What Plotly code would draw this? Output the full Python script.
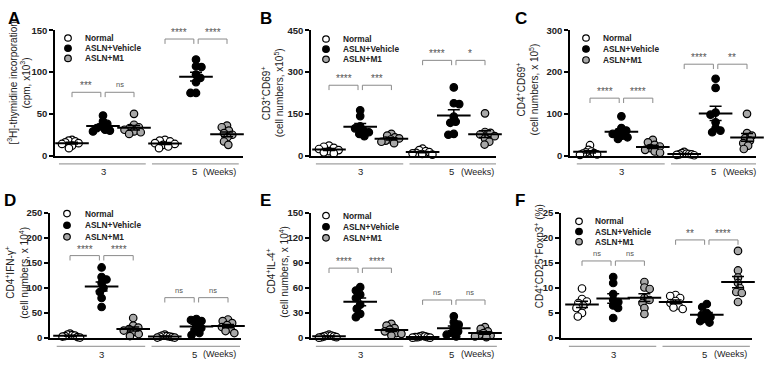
import numpy as np
import plotly.graph_objects as go

W, H = 767, 367
group_names = ["Normal", "ASLN+Vehicle", "ASLN+M1"]
fills = ["white", "black", "#a8a8a8"]
week_labels = ["3", "5"]

# ---- Panel A : [3H]-thymidine incorporation ----
a_normal_3 = [19, 18, 17, 16, 15, 14, 12, 9]
a_vehicle_3 = [48, 41, 38, 35, 33, 31, 30, 29]
a_m1_3 = [50, 37, 34, 33, 31, 29, 28, 26]
a_normal_5 = [19, 18, 17, 15, 14, 13, 11, 9]
a_vehicle_5 = [115, 107, 106, 97, 93, 88, 75, 75]
a_m1_5 = [36, 34, 30, 27, 25, 22, 17, 13]
a_ticks = [0, 50, 100, 150]
a_sig = ["***", "ns", "****", "****"]

# ---- Panel B : CD3+CD69+ ----
b_normal_3 = [36, 32, 28, 24, 20, 16, 12, 8]
b_vehicle_3 = [163, 142, 105, 98, 90, 84, 78, 70]
b_m1_3 = [78, 72, 66, 62, 58, 54, 50, 45]
b_normal_5 = [25, 20, 16, 13, 10, 8, 6, 4]
b_vehicle_5 = [245, 188, 185, 140, 122, 118, 78, 75]
b_m1_5 = [152, 85, 82, 76, 70, 62, 50, 40]
b_ticks = [0, 150, 300, 450]
b_sig = ["****", "***", "****", "*"]

# ---- Panel C : CD4+CD69+ ----
c_normal_3 = [25, 14, 10, 8, 6, 5, 3, 2]
c_vehicle_3 = [94, 66, 60, 56, 52, 48, 44, 40]
c_m1_3 = [38, 32, 26, 22, 18, 14, 10, 7]
c_normal_5 = [9, 6, 5, 4, 3, 3, 2, 1]
c_vehicle_5 = [184, 162, 103, 98, 80, 66, 60, 56]
c_m1_5 = [100, 54, 48, 42, 36, 30, 24, 16]
c_ticks = [0, 100, 200, 300]
c_sig = ["****", "****", "****", "**"]

# ---- Panel D : CD4+IFN-g+ ----
d_normal_3 = [9, 7, 6, 5, 4, 3, 2, 1]
d_vehicle_3 = [141, 122, 117, 110, 100, 92, 80, 62]
d_m1_3 = [40, 25, 21, 18, 15, 12, 8, 4]
d_normal_5 = [7, 5, 4, 3, 3, 2, 1, 1]
d_vehicle_5 = [38, 36, 34, 25, 20, 15, 10, 6]
d_m1_5 = [37, 34, 30, 26, 22, 18, 14, 10]
d_ticks = [0, 50, 100, 150, 200, 250]
d_sig = ["****", "****", "ns", "ns"]

# ---- Panel E : CD4+IL-4+ ----
e_normal_3 = [4, 3, 3, 2, 2, 1, 1, 0.5]
e_vehicle_3 = [61, 57, 52, 48, 40, 35, 29, 25]
e_m1_3 = [17, 15, 12, 10, 8, 6, 5, 3]
e_normal_5 = [3, 2, 2, 1, 1, 1, 0.5, 0.5]
e_vehicle_5 = [26, 19, 16, 12, 8, 6, 4, 2]
e_m1_5 = [13, 11, 8, 6, 4, 3, 2, 1]
e_ticks = [0, 30, 60, 90, 120, 150]
e_sig = ["****", "****", "ns", "ns"]

# ---- Panel F : CD4+CD25+Foxp3+ (%) ----
f_normal_3 = [9.9, 7.8, 7.3, 7.0, 6.5, 6.0, 5.0, 4.3]
f_vehicle_3 = [12.2, 11.0, 8.8, 7.6, 7.2, 6.5, 6.0, 4.0]
f_m1_3 = [11.2, 10.1, 9.8, 8.0, 7.6, 7.0, 6.0, 4.8]
f_normal_5 = [8.6, 8.4, 8.0, 7.4, 7.0, 6.5, 6.1, 5.8]
f_vehicle_5 = [6.8, 6.2, 5.0, 4.6, 4.2, 3.8, 3.4, 3.1]
f_m1_5 = [17.4, 13.5, 12.1, 11.0, 10.0, 9.2, 9.0, 7.2]
f_ticks = [0, 5, 10, 15, 20, 25]
f_sig = ["ns", "ns", "**", "****"]

titles = [
    ["[<sup>3</sup>H]-thymidine incorporation", "(cpm, x10<sup>3</sup>)"],
    ["CD3<sup>+</sup>CD69<sup>+</sup>", "(cell numbers, x10<sup>5</sup>)"],
    ["CD4<sup>+</sup>CD69<sup>+</sup>", "(cell numbers, x 10<sup>5</sup>)"],
    ["CD4<sup>+</sup>IFN-γ<sup>+</sup>", "(cell numbers, x 10<sup>4</sup>)"],
    ["CD4<sup>+</sup>IL-4<sup>+</sup>", "(cell numbers, x 10<sup>4</sup>)"],
    ["CD4<sup>+</sup>CD25<sup>+</sup>Foxp3<sup>+</sup> (%)"],
]
letters = ["A", "B", "C", "D", "E", "F"]

# layout geometry (pixels)
TOP_ROW = dict(top=25.0, bottom=154.3)
BOT_ROW = dict(top=213.3, bottom=342.3)
geo = [
    dict(row=TOP_ROW, left=55, right=243, c0=72, s=31.0, br=[75.8, 139.5],
         leg=(68, 33, 83, 10.5), title=([12, 25], 80), letter=(14, 13)),
    dict(row=TOP_ROW, left=311, right=496, c0=329, s=31.2, br=[252.7, 342.0],
         leg=(326, 34, 341, 10.5), title=([266, 279], 90), letter=(266, 13)),
    dict(row=TOP_ROW, left=570, right=756, c0=590, s=31.4, br=[137.6, 218.8],
         leg=(586, 33, 601, 11.3), title=([521, 534], 86), letter=(521, 13)),
    dict(row=BOT_ROW, left=50, right=241, c0=70, s=31.6, br=[164.7, 80.7],
         leg=(67, 214, 83, 12.0), title=([10, 24], 275), letter=(10, 200)),
    dict(row=BOT_ROW, left=311, right=502, c0=329, s=31.2, br=[83.8, 45.6],
         leg=(326, 216, 341, 11.5), title=([271, 284], 274), letter=(265, 200)),
    dict(row=BOT_ROW, left=561, right=752, c0=582, s=31.2, br=[15.4, 19.6],
         leg=(579, 222, 593, 10.5), title=([539], 258), letter=(520, 200)),
]

panels = [
    ([a_normal_3, a_vehicle_3, a_m1_3, a_normal_5, a_vehicle_5, a_m1_5], a_ticks, a_sig),
    ([b_normal_3, b_vehicle_3, b_m1_3, b_normal_5, b_vehicle_5, b_m1_5], b_ticks, b_sig),
    ([c_normal_3, c_vehicle_3, c_m1_3, c_normal_5, c_vehicle_5, c_m1_5], c_ticks, c_sig),
    ([d_normal_3, d_vehicle_3, d_m1_3, d_normal_5, d_vehicle_5, d_m1_5], d_ticks, d_sig),
    ([e_normal_3, e_vehicle_3, e_m1_3, e_normal_5, e_vehicle_5, e_m1_5], e_ticks, e_sig),
    ([f_normal_3, f_vehicle_3, f_m1_3, f_normal_5, f_vehicle_5, f_m1_5], f_ticks, f_sig),
]


def px_x(p):
    return p / W


def px_y(p):
    return 1 - p / H


def swarm(vals, ppu, d=5.5, cap=10.0):
    """beeswarm offsets in pixels, squeezed to a maximum half-width"""
    order = sorted(range(len(vals)), key=lambda k: -vals[k])
    placed = []
    offs = [0.0] * len(vals)
    flip = 1
    for k in order:
        yp = vals[k] * ppu
        cands = [0.0]
        for (x, y) in placed:
            dy = abs(yp - y)
            if dy < d:
                w = np.sqrt(d * d - dy * dy)
                cands += [x + w, x - w]
        cands = sorted(cands, key=lambda c: (round(abs(c), 3), -flip * c))
        chosen = 0.0
        for c in cands:
            if all((c - x) ** 2 + (yp - y) ** 2 >= d * d - 1e-6 for x, y in placed):
                chosen = c
                break
        placed.append((chosen, yp))
        offs[k] = chosen
        flip = -flip
    mx = max(abs(o) for o in offs)
    if mx > cap:
        offs = [o * cap / mx for o in offs]
    return offs


fig = go.Figure()
FONT = "Arial, Liberation Sans, sans-serif"
layout = dict(width=W, height=H, margin=dict(l=0, r=0, t=0, b=0),
              paper_bgcolor="white", plot_bgcolor="white", showlegend=False,
              font=dict(family=FONT, color="#222"))
shapes = []
annotations = []

for i, ((vals, ticks, sig), g) in enumerate(zip(panels, geo), start=1):
    xa = "x" if i == 1 else f"x{i}"
    ya = "y" if i == 1 else f"y{i}"
    row = g["row"]
    ymax = ticks[-1]
    plot_h = row["bottom"] - row["top"]
    ppu = plot_h / ymax
    s = g["s"]
    xr = [(g["left"] - g["c0"]) / s, (g["right"] - g["c0"]) / s]
    layout["xaxis" if i == 1 else f"xaxis{i}"] = dict(
        domain=[px_x(g["left"]), px_x(g["right"])], range=xr, anchor=ya,
        showline=True, linewidth=2, linecolor="black", showticklabels=False,
        ticks="", showgrid=False, zeroline=False, fixedrange=True)
    layout["yaxis" if i == 1 else f"yaxis{i}"] = dict(
        domain=[px_y(row["bottom"]), px_y(row["top"])], range=[0, ymax], anchor=xa,
        tickvals=ticks, ticktext=[str(t) for t in ticks], ticks="outside", ticklen=4,
        tickwidth=1.5, tickcolor="black", showline=True, linewidth=1.5, linecolor="black",
        showgrid=False, zeroline=False, fixedrange=True,
        tickfont=dict(size=9.5, family=FONT, color="#222", weight="bold"))

    # points
    for gi, v in enumerate(vals):
        offs = swarm(v, ppu)
        fig.add_trace(go.Scatter(
            x=[gi + o / s for o in offs], y=v, mode="markers", xaxis=xa, yaxis=ya,
            marker=dict(size=7.5, color=fills[gi % 3], line=dict(color="black", width=1.2)),
            cliponaxis=False, hoverinfo="skip"))
    # mean +/- SEM
    for gi, v in enumerate(vals):
        arr = np.array(v, dtype=float)
        m = arr.mean()
        sem = arr.std(ddof=1) / np.sqrt(len(arr))
        fig.add_trace(go.Scatter(
            x=[gi], y=[m], mode="markers", xaxis=xa, yaxis=ya, cliponaxis=False,
            marker=dict(symbol="line-ew", size=24, color="black",
                        line=dict(color="black", width=2)),
            error_y=dict(type="data", array=[sem], color="black", thickness=1.5, width=6),
            hoverinfo="skip"))

    # brackets
    leg = 5 / ppu
    pairs = [(0, 1), (1, 2), (3, 4), (4, 5)]
    for bi, (p0, p1) in enumerate(pairs):
        yb = g["br"][bi // 2]
        gap = 0.07
        x0 = p0 + (gap if p0 in (1, 4) else 0)
        x1 = p1 - (gap if p1 in (1, 4) else 0)
        shapes.append(dict(type="path", xref=xa, yref=ya,
                           path=f"M {x0},{yb - leg} L {x0},{yb} L {x1},{yb} L {x1},{yb - leg}",
                           line=dict(color="#8a8a8a", width=1)))
        lab = sig[bi]
        annotations.append(dict(x=(x0 + x1) / 2, y=yb, xref=xa, yref=ya, text=lab,
                                showarrow=False, xanchor="center", yanchor="bottom",
                                yshift=(-1 if "*" in lab else 1),
                                font=dict(size=(10 if "*" in lab else 7.5), color="#555", family=FONT)))

    # week group lines + labels
    gl_y = row["bottom"] + 8.5
    lab_y = row["bottom"] + 16.5
    for wi, wl in enumerate(week_labels):
        c = 1 + 3 * wi
        shapes.append(dict(type="line", xref=xa, yref="paper",
                           x0=c - 1.42, x1=c + 1.38, y0=px_y(gl_y), y1=px_y(gl_y),
                           line=dict(color="#8a8a8a", width=1)))
        annotations.append(dict(x=c, y=px_y(lab_y), xref=xa, yref="paper", text=wl,
                                xanchor="center", yanchor="middle",
                                xshift=(-2 if wi == 1 else 0), showarrow=False,
                                font=dict(size=9.5, family=FONT, color="#222")))
    annotations.append(dict(x=4, y=px_y(lab_y), xref=xa, yref="paper", text="(Weeks)",
                            xanchor="left", yanchor="middle", xshift=5, showarrow=False,
                            font=dict(size=9, family=FONT, color="#222")))

    # legend (manual)
    mx, my, tx, dy = g["leg"]
    for li, name in enumerate(group_names):
        yy = my + li * dy
        r = 3.3
        shapes.append(dict(type="circle", xref="paper", yref="paper",
                           x0=px_x(mx - r), x1=px_x(mx + r), y0=px_y(yy + r), y1=px_y(yy - r),
                           fillcolor=fills[li], line=dict(color="black", width=1.2)))
        annotations.append(dict(x=px_x(tx), y=px_y(yy), xref="paper", yref="paper",
                                text=name, xanchor="left", yanchor="middle", showarrow=False,
                                font=dict(size=8.3, family=FONT, color="#222", weight="bold")))

    # y title (one annotation per line)
    txs, ty_ = g["title"]
    for line_text, tx_ in zip(titles[i - 1], txs):
        annotations.append(dict(x=px_x(tx_), y=px_y(ty_), xref="paper", yref="paper",
                                text=line_text, textangle=-90, showarrow=False,
                                xanchor="center", yanchor="middle",
                                font=dict(size=10, family=FONT, color="#222")))
    # letter
    lx, ly = g["letter"]
    annotations.append(dict(x=px_x(lx), y=px_y(ly), xref="paper", yref="paper",
                            text=letters[i - 1], showarrow=False,
                            xanchor="center", yanchor="middle",
                            font=dict(size=17, family=FONT, color="black", weight="bold")))

layout["shapes"] = shapes
layout["annotations"] = annotations
fig.update_layout(**layout)
fig.write_html("out.html", config={"displayModeBar": False},
               post_script="document.body.style.margin='0';")
